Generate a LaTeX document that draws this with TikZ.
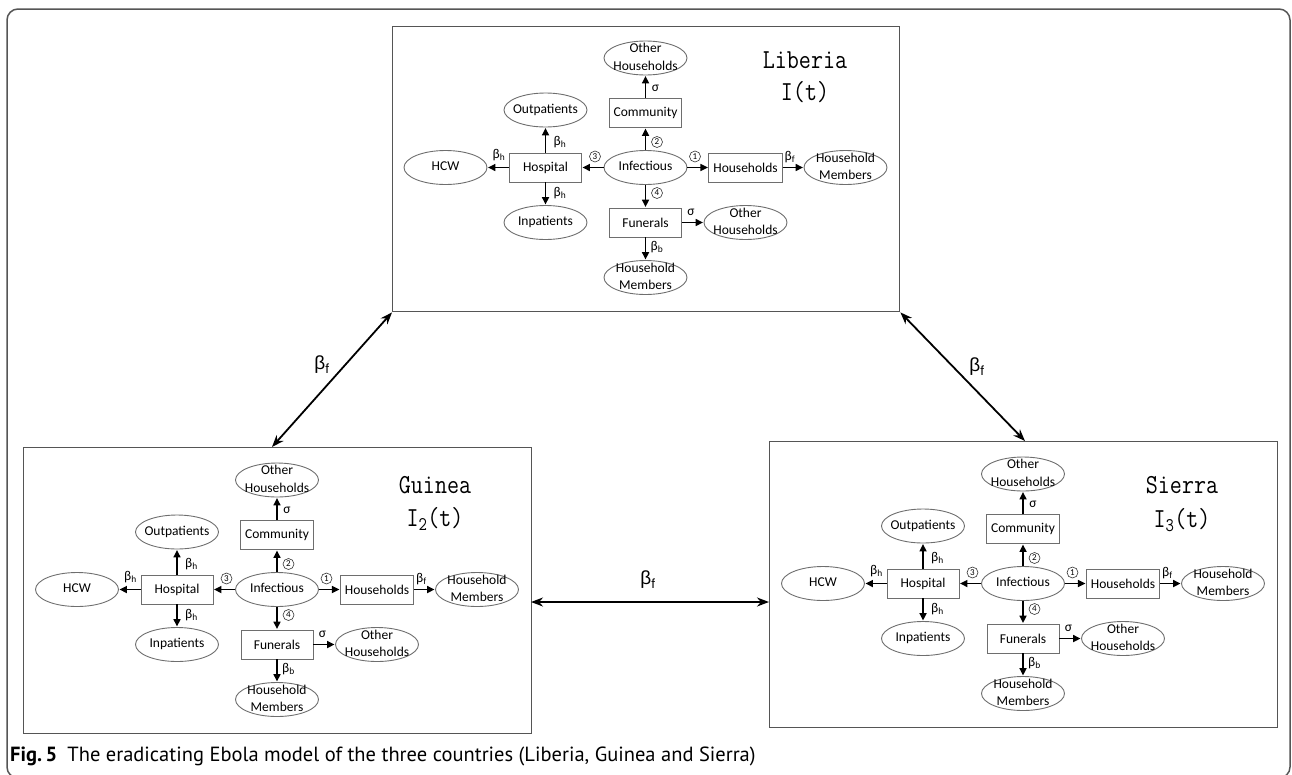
\documentclass[tikz,border=0pt]{standalone}
\usepackage{fontspec}
\usepackage{graphicx}
\setmainfont{Carlito}
\newfontfamily\capfont{PT Sans}
\newfontfamily\betafont{Liberation Sans}
\usetikzlibrary{shapes.geometric,arrows.meta}
\definecolor{frame}{RGB}{85,85,85}
\definecolor{shape}{RGB}{110,110,110}
\newcommand{\etxt}[1]{\smash{\makebox[0pt]{\raisebox{-0.25em}{\begin{tabular}{@{}c@{}}#1\end{tabular}}}}}
\newcommand{\bsub}[1]{β\textsubscript{#1}}
\newcommand{\ctitle}[1]{\scalebox{0.85}[1]{\ttfamily\fontsize{27.5}{30}\selectfont #1}}
\tikzset{
  ell/.style={ellipse, draw=shape, line width=0.9pt, minimum width=83, minimum height=34, inner sep=0pt,
    font=\fontsize{13.5}{17.5}\selectfont},
  rbox/.style={rectangle, draw=shape, line width=0.9pt, minimum width=72, minimum height=29, inner xsep=4.5pt,
    font=\fontsize{13.5}{15}\selectfont},
  arr/.style={-{Triangle[length=7.5pt,width=7pt]}, line width=1.6pt, black, shorten >=0.5pt},
  lab/.style={inner sep=0pt, font=\fontsize{13.5}{15}\selectfont},
  cn/.style={circle, draw=black!80, line width=0.6pt, inner sep=0pt, minimum size=11pt,
    font=\fontsize{9}{9}\selectfont},
  cbox/.style={rectangle, draw=frame, line width=1.4pt, anchor=north west, inner sep=0pt},
  big/.style={{Stealth[length=12pt,width=9pt]}-{Stealth[length=12pt,width=9pt]}, line width=1.8pt, black},
  blab/.style={inner sep=0pt, font=\betafont\fontsize{19}{21}\selectfont},
}
\newcommand{\countrymodel}[2]{%
\begin{scope}[shift={#2}]
\node[ell] (#1inf) at (0,0) {\etxt{Infectious}};
\node[rbox] (#1hosp) at (-100,0) {Hospital};
\node[ell] (#1hcw) at (-200,0) {\etxt{HCW}};
\node[ell] (#1outp) at (-100,-57.5) {\etxt{Outpatients}};
\node[ell] (#1inp) at (-100,55) {\etxt{Inpatients}};
\node[rbox] (#1comm) at (0,-54.5) {Community};
\node[ell] (#1otha) at (0,-109.5) {\etxt{Other\\Households}};
\node[rbox] (#1hh) at (100,0) {Households};
\node[ell] (#1hhm) at (200,0) {\etxt{Household\\Members}};
\node[rbox] (#1fun) at (0,55) {Funerals};
\node[ell] (#1othb) at (100,55) {\etxt{Other\\Households}};
\node[ell] (#1hhmb) at (0,110) {\etxt{Household\\Members}};
\draw[arr] (#1inf) -- (#1hosp);
\draw[arr] (#1hosp) -- (#1hcw);
\draw[arr] (#1hosp) -- (#1outp);
\draw[arr] (#1hosp) -- (#1inp);
\draw[arr] (#1inf) -- (#1comm);
\draw[arr] (#1comm) -- (#1otha);
\draw[arr] (#1inf) -- (#1hh);
\draw[arr] (#1hh) -- (#1hhm);
\draw[arr] (#1inf) -- (#1fun);
\draw[arr] (#1fun) -- (#1othb);
\draw[arr] (#1fun) -- (#1hhmb);
\node[cn] (#1la) at (-50.5,-11) {3};
\node[lab] (#1lb) at (-146.5,-12.5) {\bsub{h}};
\node[lab] (#1lc) at (-85.5,-25.5) {\bsub{h}};
\node[lab] (#1ld) at (-85.5,25.5) {\bsub{h}};
\node[cn] (#1le) at (11.5,-25.5) {2};
\node[lab] (#1lf) at (10,-79.5) {σ};
\node[cn] (#1lg) at (49.5,-11) {1};
\node[lab] (#1lh) at (144.5,-10.5) {\bsub{f}};
\node[cn] (#1li) at (11.5,25.5) {4};
\node[lab] (#1lk) at (45.5,44.5) {σ};
\node[lab] (#1ll) at (11.5,79.5) {\bsub{b}};
\end{scope}}
\begin{document}
\begin{tikzpicture}[x=1pt,y=-1pt]
\useasboundingbox (0,0) rectangle (1292,774);
\draw[frame, line width=1.5pt, rounded corners=11pt] (7,9) rectangle (1290,778);
% country boxes
\node[cbox, minimum width=507, minimum height=285] (lib) at (392,26) {};
\node[cbox, minimum width=508, minimum height=286] (gui) at (23,447) {};
\node[cbox, minimum width=508, minimum height=286] (sie) at (769,441) {};
% titles
\node[inner sep=0pt] (libt) at (805,60) {\ctitle{Liberia}};
\node[inner sep=0pt] (libi) at (805,92) {\ctitle{I(t)}};
\node[inner sep=0pt] (guit) at (435,485) {\ctitle{Guinea}};
\node[inner sep=0pt] (guii) at (435,519) {\ctitle{I\textsubscript{2}(t)}};
\node[inner sep=0pt] (siet) at (1182,485) {\ctitle{Sierra}};
\node[inner sep=0pt] (siei) at (1182,520) {\ctitle{I\textsubscript{3}(t)}};
% models
\countrymodel{L}{(645.5,167.5)}
\countrymodel{G}{(277,589.5)}
\countrymodel{S}{(1023,583.5)}
% connectors between countries
\coordinate (gtop) at (272,447);
\coordinate (stop) at (1025,441);
\coordinate (gright) at (531,602);
\coordinate (sleft) at (769,602);
\draw[big] (lib.south west) -- (gtop);
\draw[big] (lib.south east) -- (stop);
\draw[big] (gright) -- (sleft);
\node[blab] (bf1) at (322,365) {\bsub{f}};
\node[blab] (bf2) at (977,367) {\bsub{f}};
\node[blab] (bf3) at (648,580) {\bsub{f}};
% caption
\node[anchor=base west, inner sep=0pt, font=\capfont\fontsize{20.5}{22}\selectfont] (cap) at (10,761)
  {\textbf{Fig.\,5}\hspace{0.5em}The eradicating Ebola model of the three countries (Liberia, Guinea and Sierra)};
\end{tikzpicture}
\end{document}
